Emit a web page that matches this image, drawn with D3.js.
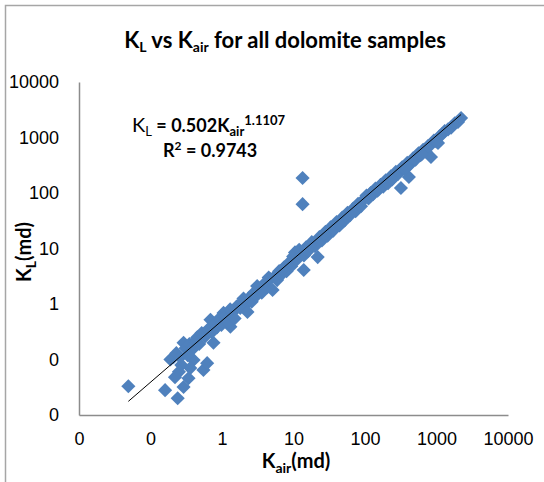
<!DOCTYPE html>
<html lang="en">
<head>
    <meta charset="UTF-8">
    <title>KL vs Kair for all dolomite samples</title>
    <script src="https://d3js.org/d3.v7.min.js"></script>
    <style>
        body { margin: 0; background: #fff; }
        .tick text { font-family: "Liberation Sans", Arial, sans-serif; font-size: 18px; fill: #000; }
        .title, .axis-label, .eq { font-family: Lato, "Open Sans", sans-serif; }
    </style>
</head>
<body>
<svg id="chart"></svg>
<script>
// K_air (md) and K_L (md) for each sample
var kair = [
    0.049, 0.16, 0.24, 0.29, 0.34, 0.22, 0.55, 0.62, 0.40, 0.21, 0.29, 0.45, 0.76, 0.69, 1.05, 1.31,
    0.19, 0.23, 0.26, 0.31, 0.35, 0.38, 0.42, 0.48, 0.52, 0.58, 0.64, 0.72, 0.80, 0.85, 0.92, 0.98,
    0.27, 0.33, 0.25, 0.36,
    1.1, 1.2, 1.4, 1.5, 1.6, 1.8, 1.9, 2.1, 2.27, 2.4, 2.6, 2.8, 3.0, 3.3, 3.6, 4.0, 4.3, 4.7, 5.1,
    5.4, 5.9, 6.3, 6.8, 7.4, 8.0, 8.7, 9.3, 9.9, 1.3, 2.0, 3.1, 4.5, 7.0,
    10.5, 11, 12, 13.9, 13.4, 13.4, 14, 15, 16, 18, 20, 21.8, 23, 25, 28, 30, 33, 36, 40, 44, 48,
    52, 57, 62, 68, 74, 80, 88, 95, 17, 27, 42, 65,
    105, 112, 120, 130, 140, 150, 165, 180, 195, 210, 230, 250, 270, 290, 318, 330, 360, 390, 411,
    430, 470, 510, 560, 600, 650, 700, 760, 837, 850, 920, 990, 155, 240, 380, 620,
    1050, 1100, 1200, 1300, 1450, 1600, 1800, 2000, 2207
];
var kl = [
    0.033, 0.028, 0.020, 0.032, 0.046, 0.048, 0.065, 0.086, 0.098, 0.11, 0.20, 0.25, 0.20, 0.52, 0.69, 0.39,
    0.10, 0.13, 0.11, 0.16, 0.19, 0.15, 0.21, 0.19, 0.30, 0.26, 0.35, 0.31, 0.45, 0.38, 0.55, 0.42,
    0.08, 0.12, 0.06, 0.07,
    0.60, 0.48, 0.70, 0.55, 0.90, 0.85, 1.10, 0.95, 0.72, 1.3, 1.1, 1.6, 1.4, 1.9, 1.6, 2.4, 2.0, 2.8, 1.79,
    3.1, 2.7, 3.9, 3.4, 4.6, 3.9, 5.6, 4.8, 7.2, 0.80, 1.25, 2.1, 3.0, 4.2,
    8.5, 6.2, 9.5, 4.1, 186, 63, 7.5, 10.5, 9, 13, 11, 7.0, 16, 14, 20, 17, 24, 21, 30, 26, 36,
    32, 44, 40, 52, 47, 64, 58, 75, 11.5, 18, 29, 46,
    90, 80, 100, 95, 120, 110, 140, 130, 170, 150, 200, 190, 240, 220, 123, 290, 270, 350, 194,
    330, 420, 400, 520, 480, 600, 560, 700, 445, 760, 880, 850, 118, 175, 290, 500,
    796, 1050, 1150, 1300, 1400, 1500, 1800, 1900, 2245
];

var tickValues = [0.01, 0.1, 1, 10, 100, 1000, 10000];
var tickLabels = ["0", "0", "1", "10", "100", "1000", "10000"];

// power trendline K_L = a * K_air^b
var trendA = 0.502, trendB = 1.1107;

var data = kair.map((d, i) => ({ x: d, y: kl[i] }));

var W = 544, H = 482;
var svg = d3.select("#chart").attr("width", W).attr("height", H);

// outer chart frame
svg.append("path")
    .attr("d", "M5.5," + H + "V5.5H" + W)
    .attr("fill", "none")
    .attr("stroke", "#a6a6a6")
    .attr("stroke-width", 1.5);

var x = d3.scaleLog().domain([0.01, 10000]).range([79, 508]);
var y = d3.scaleLog().domain([0.01, 10000]).range([415, 82]);

// axes
svg.append("g")
    .attr("transform", "translate(0,415)")
    .call(d3.axisBottom(x).tickValues(tickValues)
        .tickFormat((d, i) => tickLabels[i]).tickSize(0).tickPadding(17));
svg.append("g")
    .attr("transform", "translate(79,0)")
    .call(d3.axisLeft(y).tickValues(tickValues)
        .tickFormat((d, i) => tickLabels[i]).tickSize(0).tickPadding(20));
svg.selectAll(".domain").attr("stroke", "#8c8c8c").attr("stroke-width", 1.5);

// points
var diamond = d3.symbol().type(d3.symbolSquare).size(100);
svg.append("g").selectAll("path")
    .data(data)
    .enter().append("path")
    .attr("d", diamond)
    .attr("transform", d => "translate(" + x(d.x) + "," + y(d.y) + ") rotate(45)")
    .attr("fill", "#4f81bd");

// trendline over the data range
var xExt = d3.extent(kair);
svg.append("line")
    .attr("x1", x(xExt[0])).attr("y1", y(trendA * Math.pow(xExt[0], trendB)))
    .attr("x2", x(xExt[1])).attr("y2", y(trendA * Math.pow(xExt[1], trendB)))
    .attr("stroke", "#000")
    .attr("stroke-width", 1);

// title
var title = svg.append("text")
    .attr("class", "title")
    .attr("x", 285).attr("y", 48)
    .attr("text-anchor", "middle")
    .attr("font-size", 22).attr("font-weight", "bold");
title.append("tspan").text("K");
title.append("tspan").attr("font-size", 14).attr("dy", 4).text("L");
title.append("tspan").attr("dy", -4).text(" vs K");
title.append("tspan").attr("font-size", 14).attr("dy", 4).text("air");
title.append("tspan").attr("dy", -4).text(" for all dolomite samples");

// x axis label
var xl = svg.append("text")
    .attr("class", "axis-label")
    .attr("x", 296).attr("y", 468)
    .attr("text-anchor", "middle")
    .attr("font-size", 20).attr("font-weight", "bold");
xl.append("tspan").text("K");
xl.append("tspan").attr("font-size", 14).attr("dy", 5).text("air");
xl.append("tspan").attr("dy", -5).text("(md)");

// y axis label
var yl = svg.append("text")
    .attr("class", "axis-label")
    .attr("transform", "translate(31,252) rotate(-90)")
    .attr("text-anchor", "middle")
    .attr("font-size", 20).attr("font-weight", "bold");
yl.append("tspan").text("K");
yl.append("tspan").attr("font-size", 14).attr("dy", 5).text("L");
yl.append("tspan").attr("dy", -5).text("(md)");

// trendline equation
var eq = svg.append("text")
    .attr("class", "eq")
    .attr("x", 132).attr("y", 132)
    .attr("font-size", 18);
eq.append("tspan").attr("font-size", 20).text("K");
eq.append("tspan").attr("font-size", 13).attr("dy", 4).text("L");
eq.append("tspan").attr("dy", -4).attr("font-weight", "bold").text(" = 0.502K");
eq.append("tspan").attr("font-size", 13).attr("dy", 4).attr("font-weight", "bold").text("air");
eq.append("tspan").attr("font-size", 13).attr("dy", -11).attr("font-weight", "bold").text(trendB.toFixed(4));

var r2 = svg.append("text")
    .attr("class", "eq")
    .attr("x", 163).attr("y", 157)
    .attr("font-size", 18).attr("font-weight", "bold");
r2.append("tspan").text("R");
r2.append("tspan").attr("font-size", 12).attr("dy", -7).text("2");
r2.append("tspan").attr("dy", 7).text(" = 0.9743");
</script>
</body>
</html>
